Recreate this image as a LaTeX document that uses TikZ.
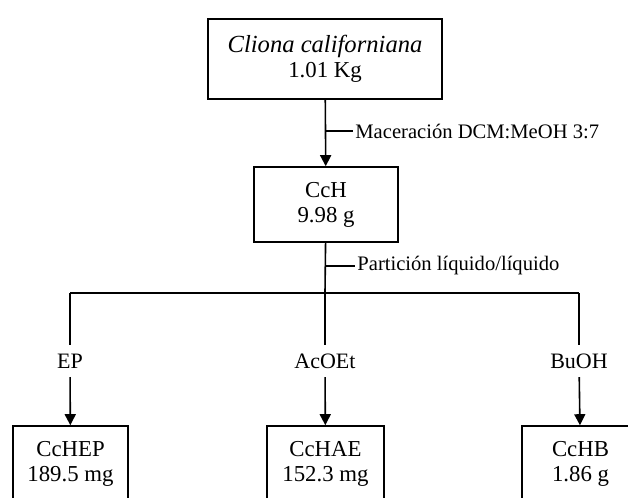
\documentclass[tikz,border=0pt]{standalone}
\usepackage{fontspec}
\setmainfont{Liberation Serif}
\usetikzlibrary{arrows.meta, positioning, calc}

\begin{document}
\begin{tikzpicture}[
    x=0.5pt, y=-0.5pt,
    font=\fontsize{11.4}{12.5}\selectfont,
    box/.style={draw, line width=0.8pt, align=center, inner sep=0pt},
    solvent/.style={inner sep=4.2pt, font=\fontsize{11}{12}\selectfont},
    note/.style={right, inner sep=1pt, font=\fontsize{10.3}{12}\selectfont},
    arrow/.style={-{Triangle[length=5.5pt, width=5.5pt]}, line width=0.8pt},
    link/.style={line width=0.8pt}
]
\useasboundingbox (0,0) rectangle (628,498);
\clip (0,0) rectangle (628,498);

% raw sponge and crude extract
\node[box, minimum width=117pt, minimum height=40pt] (cliona) at (325,59)
    {{\fontsize{12.3}{12.5}\selectfont\textit{Cliona californiana}}\\1.01 Kg};
\node[box, minimum width=72pt, minimum height=37.5pt] (cch) at (326,204.5)
    {CcH\\9.98 g};

\draw[arrow] (cliona) -- (cch);
\coordinate (mac) at (325,131);
\node[note] (macl) at (353,131) {Maceración DCM:MeOH 3:7};
\draw[link] (mac) -- (macl.west);

% partition split
\coordinate (split) at (325,293);
\coordinate (left) at (70,293);
\coordinate (right) at (579,293);
\draw[link] (cch) -- (split);
\draw[link] (left) -- (right);
\coordinate (part) at (325,266);
\node[note] (partl) at (355,266) {Partición líquido/líquido};
\draw[link] (part) -- (partl.west);

% solvents
\node[solvent] (ep) at (70,361) {EP};
\node[solvent] (acoet) at (325,361) {AcOEt};
\node[solvent] (buoh) at (579,361) {BuOH};

% fractions
\node[box, minimum width=57.5pt, minimum height=37.5pt] (cchep) at (70.5,463.5)
    {CcHEP\\189.5 mg};
\node[box, minimum width=58.5pt, minimum height=37.5pt] (cchae) at (325.5,463.5)
    {CcHAE\\152.3 mg};
\node[box, minimum width=58.5pt, minimum height=37.5pt] (cchb) at (580.5,463.5)
    {CcHB\\1.86 g};

\draw[link] (left) -- (ep);
\draw[link] (split) -- (acoet);
\draw[link] (right) -- (buoh);
\draw[arrow] (ep) -- (cchep);
\draw[arrow] (acoet) -- (cchae);
\draw[arrow] (buoh) -- (cchb);

\end{tikzpicture}
\end{document}
